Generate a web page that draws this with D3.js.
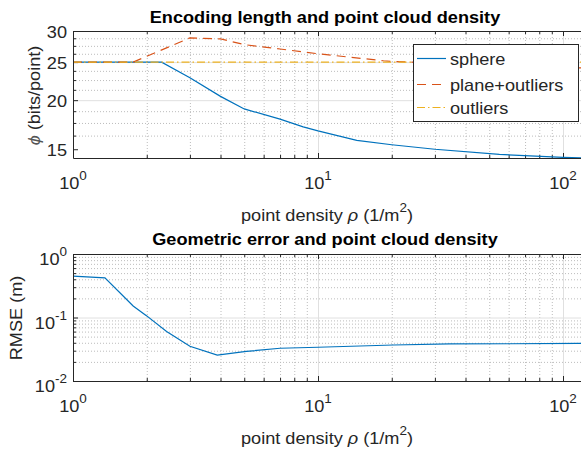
<!DOCTYPE html>
<html>
<head>
<meta charset="utf-8">
<script src="https://d3js.org/d3.v7.min.js"></script>
<style>
    body { margin: 0; background: #fff; }
    text { font-family: "Liberation Sans", Arial, sans-serif; fill: #262626; }
    .lbl { font-size: 16.8px; }
    .ttl { font-size: 16.8px; font-weight: bold; fill: #000; }
    .sup { font-size: 12.5px; }
    .domain { display: none; }
    .grid-major line { stroke: #e0e0e0; stroke-width: 1; }
    .grid-minor line { stroke: #bcbcbc; stroke-width: 1; stroke-dasharray: 1,2; }
    .ticks line { stroke: #262626; stroke-width: 1; }
</style>
</head>
<body>
<svg width="581" height="453"></svg>
<script>
    // encoding length vs density
    const rhoSphere = [1, 2.3, 3, 4, 5, 7, 8.7, 10, 14.4, 20, 30, 55, 100, 120];
    const phiSphere = [25, 25, 22.8, 20.45, 19.0, 17.9, 17.1, 16.7, 15.8, 15.4, 15.0, 14.55, 14.3, 14.25];
    const rhoPlane = [1, 1.76, 3, 4, 5, 7, 10, 18.5, 20, 50, 108, 120];
    const phiPlane = [25, 25, 28.8, 28.65, 27.7, 27.0, 26.25, 25.2, 25.1, 24.6, 24.2, 24.15];
    const rhoOutliers = [1, 120];
    const phiOutliers = [25, 25];
    // geometric error vs density
    const rhoRmse = [1, 1.35, 1.76, 2.0, 2.41, 3, 3.88, 5.1, 7, 10, 20.3, 34.5, 120];
    const rmseVals = [0.447, 0.42, 0.152, 0.106, 0.0604, 0.0352, 0.0256, 0.0292, 0.0328, 0.034, 0.0369, 0.0383, 0.039];

    const seriesNames = ['sphere', 'plane+outliers', 'outliers'];
    const xMajor = [1, 10, 100];
    const xMinor = [2, 3, 4, 5, 6, 7, 8, 9, 20, 30, 40, 50, 60, 70, 80, 90];
    const phiMajor = [15, 20, 25, 30];
    const phiMinor = [16.25, 17.5, 18.75, 21.25, 22.5, 23.75, 26.25, 27.5, 28.75];
    const rmseMajor = [0.01, 0.1, 1];
    const rmseMinor = [0.02, 0.03, 0.04, 0.05, 0.06, 0.07, 0.08, 0.09, 0.2, 0.3, 0.4, 0.5, 0.6, 0.7, 0.8, 0.9];

    const colors = ['#0072BD', '#D95319', '#EDB120'];
    const dashes = [null, '9,6', '8,3,1.5,3'];

    const svg = d3.select('svg');
    const SX = 1.08; // text runs a bit wide in the reference
    const left = 73;

    const x = d3.scaleLog().domain([1, 120]).range([left, left + 245 * Math.log10(120)]);

    function label(px, py, anchor, cls, rot) {
        const g = svg.append('g')
            .attr('transform', `translate(${px},${py})` + (rot ? ` rotate(${rot})` : '') + ` scale(${SX},1)`);
        return g.append('text').attr('class', cls).attr('text-anchor', anchor);
    }

    function power(px, py, anchor, expo) {
        const t = label(px, py, anchor, 'lbl');
        t.append('tspan').text('10');
        t.append('tspan').attr('class', 'sup').attr('dy', -9).text(expo);
    }

    function panel(y, y0, y1, yMajor, yMinor, id) {
        const g = svg.append('g');
        const w = x.range()[1] - left;
        const h = y1 - y0;
        const axisX = (fn, vals, size) => fn(x).tickValues(vals).tickSize(size).tickFormat('');
        const axisY = (fn, vals, size) => fn(y).tickValues(vals).tickSize(size).tickFormat('');

        g.append('rect').attr('x', left).attr('y', y0).attr('width', w).attr('height', h).attr('fill', '#fff');
        // grid
        g.append('g').attr('class', 'grid-minor').attr('transform', `translate(0,${y1})`).call(axisX(d3.axisBottom, xMinor, -h));
        g.append('g').attr('class', 'grid-minor').attr('transform', `translate(${left},0)`).call(axisY(d3.axisLeft, yMinor, -w));
        g.append('g').attr('class', 'grid-major').attr('transform', `translate(0,${y1})`).call(axisX(d3.axisBottom, xMajor.slice(1), -h));
        g.append('g').attr('class', 'grid-major').attr('transform', `translate(${left},0)`).call(axisY(d3.axisLeft, yMajor.slice(1, -1), -w));
        // inward ticks
        g.append('g').attr('class', 'ticks').attr('transform', `translate(0,${y1})`).call(axisX(d3.axisBottom, xMajor, -5));
        g.append('g').attr('class', 'ticks').attr('transform', `translate(0,${y1})`).call(axisX(d3.axisBottom, xMinor, -3));
        g.append('g').attr('class', 'ticks').attr('transform', `translate(0,${y0})`).call(axisX(d3.axisTop, xMajor, -5));
        g.append('g').attr('class', 'ticks').attr('transform', `translate(0,${y0})`).call(axisX(d3.axisTop, xMinor, -3));
        g.append('g').attr('class', 'ticks').attr('transform', `translate(${left},0)`).call(axisY(d3.axisLeft, yMajor, -5));
        g.append('g').attr('class', 'ticks').attr('transform', `translate(${left},0)`).call(axisY(d3.axisLeft, yMinor, -3));

        svg.append('clipPath').attr('id', id).append('rect')
            .attr('x', left).attr('y', y0).attr('width', w).attr('height', h);

        // x tick labels
        xMajor.forEach((v, i) => power(x(v), y1 + 30.5, 'middle', String(i)));
        return g;
    }

    function drawLine(g, y, xs, ys, i, id) {
        const line = d3.line().x(d => x(d[0])).y(d => y(d[1]));
        g.append('path')
            .attr('clip-path', `url(#${id})`)
            .attr('fill', 'none')
            .attr('stroke', colors[i])
            .attr('stroke-width', 1.2)
            .attr('stroke-dasharray', dashes[i])
            .attr('d', line(d3.zip(xs, ys)));
    }

    function border(y0, y1) {
        svg.append('path')
            .attr('fill', 'none')
            .attr('stroke', '#262626')
            .attr('stroke-width', 1)
            .attr('d', `M${x.range()[1] + 1},${y0 + 0.5}H${left + 0.5}V${y1 + 0.5}H${x.range()[1] + 1}`);
    }

    function xlabel(py) {
        const t = label(327, py, 'middle', 'lbl');
        t.append('tspan').text('point density  ');
        t.append('tspan').attr('font-style', 'italic').text('ρ');
        t.append('tspan').text(' (1/m');
        t.append('tspan').attr('class', 'sup').attr('dy', -9).text('2');
        t.append('tspan').attr('dy', 9).text(')');
    }

    // ---- top panel
    const yPhi = d3.scaleLog().domain([14.25, 30]).range([158, 31]);
    const gTop = panel(yPhi, 31, 158, phiMajor, phiMinor, 'clipTop');
    drawLine(gTop, yPhi, rhoSphere, phiSphere, 0, 'clipTop');
    drawLine(gTop, yPhi, rhoPlane, phiPlane, 1, 'clipTop');
    drawLine(gTop, yPhi, rhoOutliers, phiOutliers, 2, 'clipTop');
    border(31, 158);

    phiMajor.forEach(v => label(67, yPhi(v) + 6.5, 'end', 'lbl').text(v));
    label(325, 22.7, 'middle', 'ttl').text('Encoding length and point cloud density');
    xlabel(220.7);
    const yl = label(40, 95.5, 'middle', 'lbl', -90);
    yl.append('tspan').attr('font-style', 'italic').attr('fill', '#555').text('ϕ');
    yl.append('tspan').text(' (bits/point)');

    // legend
    const leg = svg.append('g');
    leg.append('rect').attr('x', 413.5).attr('y', 44.5).attr('width', 165).attr('height', 77)
        .attr('fill', '#fff').attr('stroke', '#262626').attr('stroke-width', 1);
    const legY = [58.5, 84.5, 107.5];
    seriesNames.forEach((name, i) => {
        leg.append('line').attr('x1', 417).attr('x2', 446).attr('y1', legY[i]).attr('y2', legY[i])
            .attr('stroke', colors[i]).attr('stroke-width', 1.2).attr('stroke-dasharray', dashes[i]);
        label(450, legY[i] + 6.5, 'start', 'lbl').text(name);
    });

    // ---- bottom panel
    const yErr = d3.scaleLog().domain([0.01, 1]).range([381, 254]);
    const gBot = panel(yErr, 254, 381, rmseMajor, rmseMinor, 'clipBot');
    drawLine(gBot, yErr, rhoRmse, rmseVals, 0, 'clipBot');
    border(254, 381);

    rmseMajor.forEach(v => power(67, yErr(v) + 11, 'end', String(Math.round(Math.log10(v)))));
    label(325, 245, 'middle', 'ttl').text('Geometric error and point cloud density');
    xlabel(443.5);
    label(22, 318, 'middle', 'lbl', -90).text('RMSE (m)');
</script>
</body>
</html>
